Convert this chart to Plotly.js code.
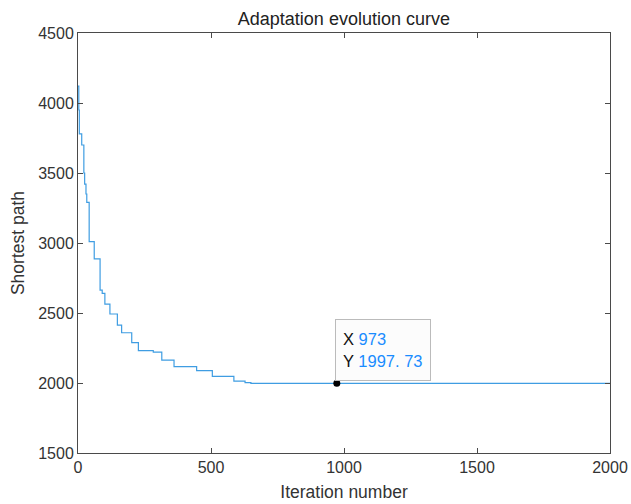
<!DOCTYPE html>
<html>
<head>
<meta charset="utf-8">
<script src="https://cdn.plot.ly/plotly-3.0.1.min.js"></script>
<style>html,body{margin:0;padding:0;background:#fff;}#chart{width:631px;height:504px;}</style>
</head>
<body>
<div id="chart"></div>
<script>
// Step breakpoints of the best (shortest) path found per iteration
const iterations = [0, 3, 5, 14, 22, 25, 30, 33, 42, 61, 83, 91, 101, 120, 148, 164, 202, 227, 283, 315, 361, 446, 505, 586, 628, 650, 2000];
const shortestPath = [4120, 3950, 3780, 3700, 3500, 3420, 3350, 3290, 3010, 2886, 2664, 2640, 2564, 2493, 2414, 2359, 2288, 2231, 2221, 2164, 2117, 2088, 2048, 2014, 2002, 1997.73, 1997.73];
// Data tip
const tipX = [973];
const tipY = [1997.73];
const tipLabelY = "1997. 73";
const xTicks = [0, 500, 1000, 1500, 2000];
const yTicks = [1500, 2000, 2500, 3000, 3500, 4000, 4500];

const font = "Arial, 'Liberation Sans', Helvetica, sans-serif";
const axisColor = "#4a4a4a";

const traces = [
  {x: iterations, y: shortestPath, type: "scatter", mode: "lines",
   line: {shape: "hv", color: "#3f9de2", width: 1.2}, hoverinfo: "skip"},
  {x: tipX, y: tipY, type: "scatter", mode: "markers",
   marker: {color: "#000", size: 7}, hoverinfo: "skip"}
];

const layout = {
  width: 631, height: 504,
  margin: {l: 78, r: 21, t: 33, b: 51},
  paper_bgcolor: "#fff", plot_bgcolor: "#fff",
  showlegend: false,
  title: {text: "Adaptation evolution curve", font: {family: font, size: 18, color: "#222"},
          x: 0.545, xanchor: "center", y: 0.963, yanchor: "middle"},
  xaxis: {range: [0, 2000], tickvals: xTicks, ticktext: xTicks.map(String),
          ticks: "inside", ticklen: 5, tickcolor: axisColor, showline: true, linecolor: axisColor,
          linewidth: 1, mirror: "ticks", showgrid: false, zeroline: false,
          tickfont: {family: font, size: 16, color: "#333"},
          title: {text: "Iteration number", font: {family: font, size: 17.5, color: "#333"}, standoff: 10}},
  yaxis: {range: [1500, 4500], tickvals: yTicks, ticktext: yTicks.map(String),
          ticks: "inside", ticklen: 5, tickcolor: axisColor, showline: true, linecolor: axisColor,
          linewidth: 1, mirror: "ticks", showgrid: false, zeroline: false,
          tickfont: {family: font, size: 16, color: "#333"},
          title: {text: "Shortest path", font: {family: font, size: 17.5, color: "#333"}, standoff: 9}},
  annotations: [{
    x: tipX[0], y: tipY[0], xref: "x", yref: "y", showarrow: false,
    xanchor: "left", yanchor: "bottom", xshift: -2, yshift: 2,
    align: "left", width: 80, height: 46,
    bgcolor: "#fcfcfc", bordercolor: "#bbbbbb", borderwidth: 1, borderpad: 7,
    font: {family: font, size: 16.5, color: "#111"},
    text: "X <span style='color:#1a8cff'>" + tipX[0] + "</span><br>Y <span style='color:#1a8cff'>" + tipLabelY + "</span>"
  }]
};

Plotly.newPlot("chart", traces, layout, {displayModeBar: false, staticPlot: true});
</script>
</body>
</html>
